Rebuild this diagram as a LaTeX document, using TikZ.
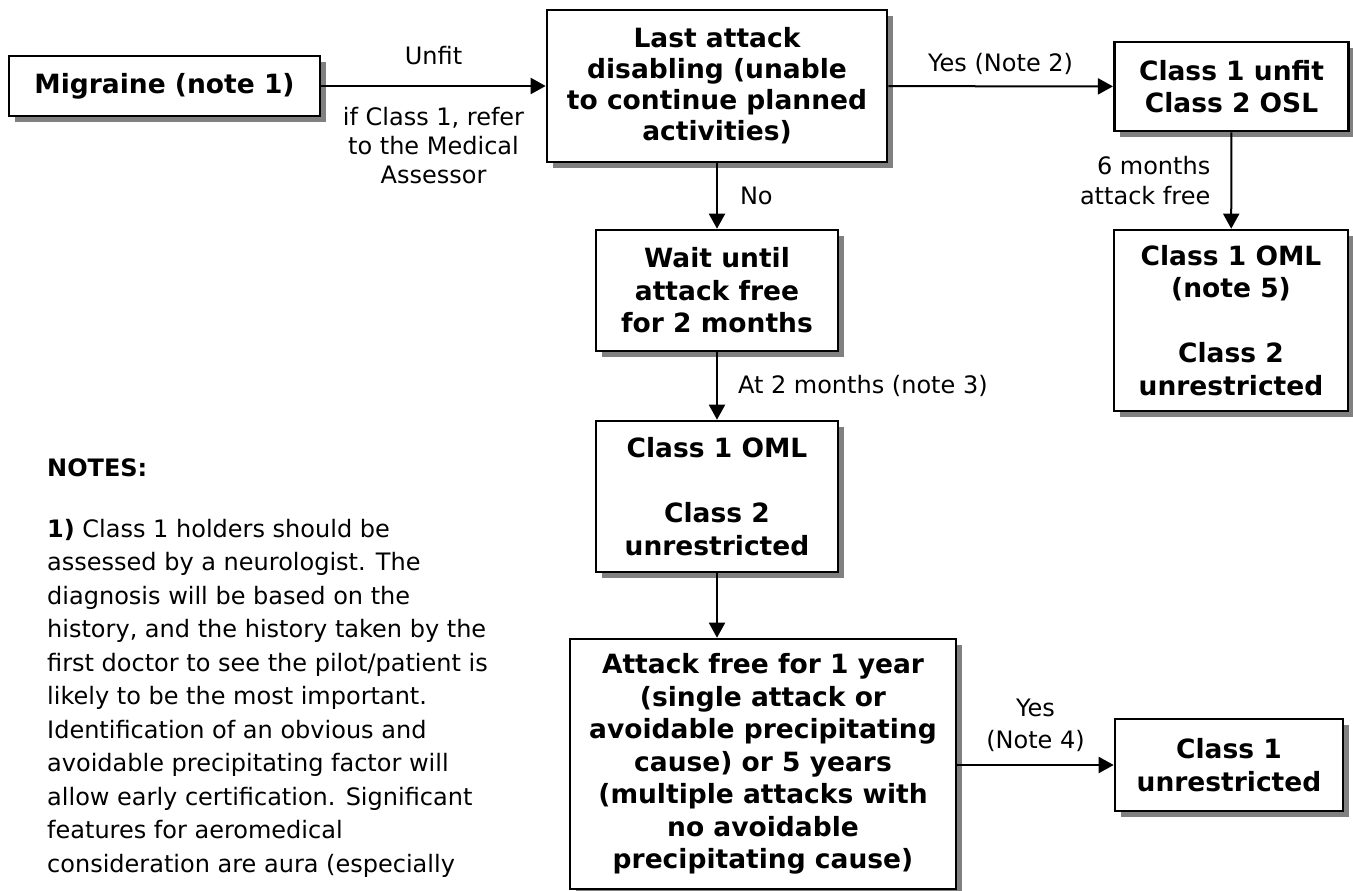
\documentclass[tikz,border=0pt]{standalone}
\usepackage{fontspec}
\setmainfont{DejaVu Sans}
\usetikzlibrary{arrows.meta, shadows}

\begin{document}
\begin{tikzpicture}[x=1pt, y=-1pt]

\tikzset{box/.style = {shape=rectangle, draw, line width=2.6pt, fill=white, align=center, inner sep=2pt,
  font=\bfseries\fontsize{26.5}{32.5}\selectfont,
  drop shadow={shadow xshift=6pt, shadow yshift=-6pt, fill=black!50, opacity=1}}}
\tikzset{edge/.style = {-{Triangle[length=15pt, width=16pt]}, line width=2pt}}
\tikzset{lbl/.style = {align=center, inner sep=0pt, font=\fontsize{24}{29}\selectfont}}

\useasboundingbox (0,0) rectangle (1353,891);

%boxes
\node[box, minimum width=311pt, minimum height=60pt] (mig) at (164.5,86) {Migraine (note 1)};
\node[box, minimum width=340pt, minimum height=152pt, font=\bfseries\fontsize{26.5}{31}\selectfont] (last) at (717,86) {Last attack\\disabling (unable\\to continue planned\\activities)};
\node[box, minimum width=234.5pt, minimum height=89pt] (unfit) at (1231.5,86.5) {Class 1 unfit\\Class 2 OSL};
\node[box, minimum width=234pt, minimum height=181pt] (oml5) at (1231,320.5) {Class 1 OML\\(note 5)\\[32.5pt]Class 2\\unrestricted};
\node[box, minimum width=242pt, minimum height=121pt] (wait) at (717,290.5) {Wait until\\attack free\\for 2 months};
\node[box, minimum width=242pt, minimum height=151pt] (oml) at (717,496.5) {Class 1 OML\\[32.5pt]Class 2\\unrestricted};
\node[box, minimum width=386pt, minimum height=250pt] (free) at (763,764) {Attack free for 1 year\\(single attack or\\avoidable precipitating\\cause) or 5 years\\(multiple attacks with\\no avoidable\\precipitating cause)};
\node[box, minimum width=228pt, minimum height=92pt] (unres) at (1229,765) {Class 1\\unrestricted};

%edges
\draw [edge] (mig) -- (last)
  node [midway, above=20pt, lbl] {Unfit}
  node [midway, below=20pt, lbl] {if Class 1, refer\\to the Medical\\Assessor};
\draw [edge] (last) -- (unfit) node [midway, above=11pt, lbl] {Yes (Note 2)};
\draw [edge] (last) -- (wait) node [midway, right=22pt, lbl] {No};
\draw [edge] (unfit) -- (oml5)
  node [midway, left=20pt, lbl, align=right, font=\fontsize{24}{30}\selectfont] {6 months\\attack free};
\draw [edge] (wait) -- (oml) node [midway, right=20pt, lbl] {At 2 months (note 3)};
\draw [edge] (oml.south) -- (oml.south |- free.north);
\draw [edge] (free.east |- unres.west) -- (unres.west)
  node [midway, above=12pt, lbl, font=\fontsize{24}{32}\selectfont] {Yes\\(Note 4)};

%notes
\node [anchor=north west, align=left, inner sep=0pt, font=\fontsize{24}{33.5}\selectfont] (notes) at (47,458)
  {\textbf{NOTES:}\\[27.5pt]
   \textbf{1)} Class 1 holders should be\\
   assessed by a neurologist. The\\
   diagnosis will be based on the\\
   history, and the history taken by the\\
   first doctor to see the pilot/patient is\\
   likely to be the most important.\\
   Identification of an obvious and\\
   avoidable precipitating factor will\\
   allow early certification. Significant\\
   features for aeromedical\\
   consideration are aura (especially};

\end{tikzpicture}
\end{document}
